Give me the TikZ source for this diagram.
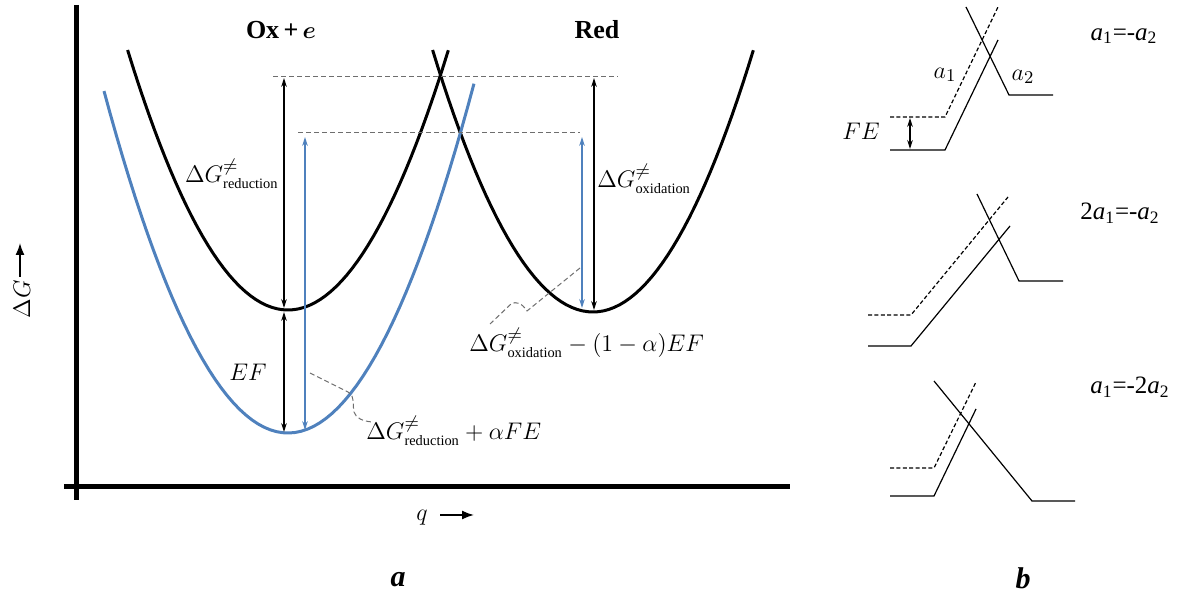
\documentclass[tikz,border=0pt]{standalone}
\usepackage{amsmath,amssymb}
\usepackage{fontspec}
\setmainfont{Liberation Serif}
\usepackage{tikz}
\usetikzlibrary{arrows.meta}
\definecolor{CurveBlue}{RGB}{79,129,189}
\definecolor{GuideGray}{RGB}{110,110,110}
\newcommand{\subtxt}[1]{\text{\fontsize{7.2}{8}\selectfont #1}}
\newcommand{\ta}[1]{\textit{a}$_{\text{#1}}$}
\tikzset{
  blackcurve/.style={draw=black,line width=1.5pt},
  bluecurve/.style={draw=CurveBlue,line width=1.5pt},
  axisline/.style={draw=black,line width=2.5pt},
  dimarrow/.style={draw=black,line width=0.6pt,
    {Stealth[length=4.5pt,width=2.8pt]}-{Stealth[length=4.5pt,width=2.8pt]}},
  bluedim/.style={dimarrow,draw=CurveBlue},
  guide/.style={draw=GuideGray,line width=0.5pt,dash pattern=on 2.5pt off 1.5pt},
  thinline/.style={draw=black,line width=0.6pt},
  thindash/.style={thinline,dash pattern=on 2pt off 1.2pt},
  lbl/.style={font=\fontsize{12.5}{15}\selectfont,inner sep=0pt},
  heading/.style={font=\fontsize{13}{15}\selectfont\bfseries,inner sep=0pt},
  panel/.style={font=\fontsize{15}{18}\selectfont\bfseries\itshape,inner sep=0pt},
}

\begin{document}
\begin{tikzpicture}[x=0.5pt,y=-0.5pt]
        \useasboundingbox (0,0) rectangle (1189,597);
        % axes
        \coordinate (yTop) at (76,5);
        \coordinate (yBot) at (76,500);
        \coordinate (xL) at (64,487);
        \coordinate (xR) at (790,487);
        \draw[axisline] (yTop)--(yBot);
        \draw[axisline] (xL)--(xR);
        % free energy curves
        \draw[blackcurve] plot[domain=-1:1,samples=61] ({288+160.4*\x},{310-260*\x*\x});
        \draw[blackcurve] plot[domain=-1:1,samples=61] ({593+160.4*\x},{312-262*\x*\x});
        \draw[bluecurve] plot[domain=-1.84:1.86,samples=61] ({288+100*\x},{433-101*\x*\x});
        % barrier levels
        \coordinate (gA) at (273,77);
        \coordinate (gB) at (618,77);
        \coordinate (gC) at (298,133);
        \coordinate (gD) at (580,133);
        \draw[guide] (gA)--(gB);
        \draw[guide] (gC)--(gD);
        \coordinate (redTop) at (284,78);
        \coordinate (redMin) at (284,308);
        \coordinate (efTop) at (284,312);
        \coordinate (efBot) at (284,432);
        \coordinate (bluL1) at (305,137);
        \coordinate (bluL2) at (305,430);
        \coordinate (bluR1) at (582,137);
        \coordinate (bluR2) at (582,308);
        \coordinate (oxTop) at (594,78);
        \coordinate (oxMin) at (594,310);
        \foreach \p/\q/\s in {redTop/redMin/dimarrow,efTop/efBot/dimarrow,
          bluL1/bluL2/bluedim,bluR1/bluR2/bluedim,oxTop/oxMin/dimarrow}
          \draw[\s] (\p)--(\q);
        % labels
        \node[heading] (oxe) at (281,30) {Ox\,+\,$\boldsymbol{e}$};
        \node[heading] (red) at (597,30) {Red};
        \node[lbl,anchor=base east] (dGred) at (279,183) {$\Delta G^{\neq}_{\subtxt{reduction}}$};
        \node[lbl,anchor=base west] (dGox) at (597,188) {$\Delta G^{\neq}_{\subtxt{oxidation}}$};
        \node[lbl] (ef) at (248,372) {$EF$};
        \node[lbl,anchor=base west] (dGredF) at (366,440) {$\Delta G^{\neq}_{\subtxt{reduction}}+\alpha FE$};
        \node[lbl,anchor=base west] (dGoxF) at (469,352) {$\Delta G^{\neq}_{\subtxt{oxidation}}-(1-\alpha)EF$};
        % leaders
        \coordinate (ldA) at (580,268);
        \coordinate (ldB) at (490,324);
        \coordinate (ldC) at (310,373);
        \coordinate (ldD) at (372,422);
        \draw[guide] (ldA) -- (527,311) .. controls (522,303) and (516,301) .. (511,304) -- (ldB);
        \draw[guide] (ldC) -- (348,392) .. controls (356,397) and (352,405) .. (354,412)
          .. controls (356,418) and (362,421) .. (ldD);
        % axis titles
        \node[lbl,rotate=90] (dGaxis) at (22,299) {$\Delta G$};
        \coordinate (dgS) at (20,277);
        \coordinate (dgE) at (20,243);
        \draw[line width=0.8pt,-{Latex[length=6pt,width=4.5pt]}] (dgS)--(dgE);
        \node[lbl] (qaxis) at (422,518) {$q$};
        \coordinate (qS) at (440,515);
        \coordinate (qE) at (474,515);
        \draw[line width=0.8pt,-{Latex[length=6pt,width=4.5pt]}] (qS)--(qE);
        \node[panel] (pa) at (398,580) {a};
        % panel b
        \draw[thinline] (966,7) -- (1009,95) -- (1053,95);
        \draw[thindash] (890,117) -- (945,117) -- (998,7);
        \draw[thinline] (890,150) -- (945,150) -- (998,40);
        \coordinate (feTop) at (910,118);
        \coordinate (feBot) at (910,149);
        \draw[dimarrow] (feTop)--(feBot);
        \node[lbl] (fe) at (861,131) {$FE$};
        \node[lbl] (aone) at (945,75) {$a_1$};
        \node[lbl] (atwo) at (1023,77) {$a_2$};
        \node[lbl] (eqA) at (1124,36) {\ta{1}=-\ta{2}};
        \draw[thinline] (977,194) -- (1019,281) -- (1063,281);
        \draw[thindash] (868,315) -- (911,315) -- (1008,197);
        \draw[thinline] (868,346) -- (911,346) -- (1010,226);
        \node[lbl] (eqB) at (1120,213) {2\ta{1}=-\ta{2}};
        \draw[thinline] (934,381) -- (1032,501) -- (1075,501);
        \draw[thindash] (890,468) -- (934,468) -- (976,382);
        \draw[thinline] (890,496) -- (934,496) -- (976,409);
        \node[lbl] (eqC) at (1130,387) {\ta{1}=-2\ta{2}};
        \node[panel] (pb) at (1023,578) {b};
      \end{tikzpicture}
\end{document}
